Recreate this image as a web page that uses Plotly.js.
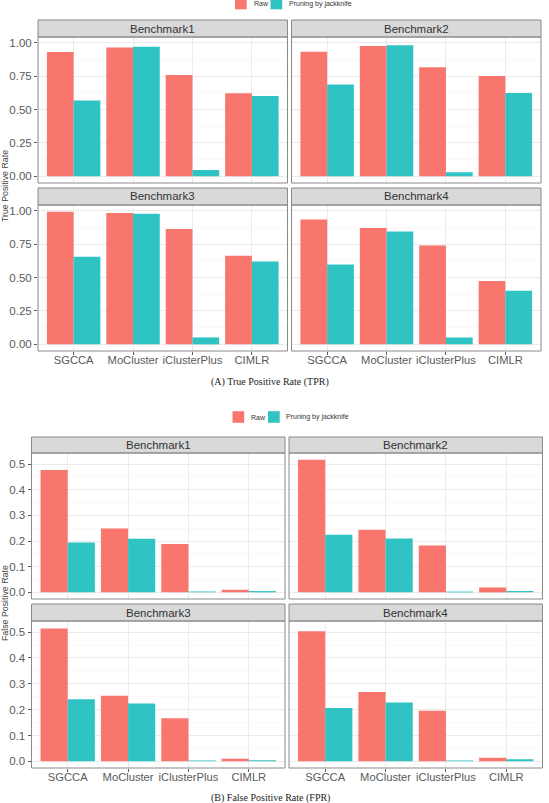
<!DOCTYPE html>
<html>
<head>
<meta charset="utf-8">
<script src="https://cdn.plot.ly/plotly-3.0.1.min.js"></script>
<style>html,body{margin:0;padding:0;background:#fff;}#chart{width:549px;height:803px;}</style>
</head>
<body>
<div id="chart"></div>
<script>
// ---- data ----
const categories = ['SGCCA', 'MoCluster', 'iClusterPlus', 'CIMLR'];
const seriesNames = ['Raw', 'Pruning by jackknife'];
const benchmarks = ['Benchmark1', 'Benchmark2', 'Benchmark3', 'Benchmark4'];

const tprRaw1 = [0.930, 0.965, 0.759, 0.622];
const tprRaw2 = [0.933, 0.975, 0.816, 0.751];
const tprRaw3 = [0.993, 0.983, 0.864, 0.663];
const tprRaw4 = [0.935, 0.871, 0.739, 0.474];
const tprJack1 = [0.567, 0.970, 0.047, 0.602];
const tprJack2 = [0.687, 0.980, 0.030, 0.624];
const tprJack3 = [0.655, 0.978, 0.052, 0.620];
const tprJack4 = [0.598, 0.844, 0.052, 0.402];

const fprRaw1 = [0.477, 0.249, 0.188, 0.010];
const fprRaw2 = [0.517, 0.244, 0.183, 0.019];
const fprRaw3 = [0.514, 0.254, 0.167, 0.010];
const fprRaw4 = [0.503, 0.268, 0.196, 0.014];
const fprJack1 = [0.194, 0.209, 0.003, 0.005];
const fprJack2 = [0.224, 0.210, 0.003, 0.005];
const fprJack3 = [0.240, 0.224, 0.003, 0.004];
const fprJack4 = [0.206, 0.228, 0.003, 0.008];

const yTitles = ['True Positive Rate', 'False Positive Rate'];
const captions = ['(A) True Positive Rate (TPR)', '(B) False Positive Rate (FPR)'];

// ---- layout helpers ----
const W = 549, H = 803;
const RED = '#F8766D', TEAL = '#2FC3C4';
const BORDER = '#8a8a8a';
const SANS = 'Liberation Sans, Arial, sans-serif';
const xf = v => v / W;
const yf = v => 1 - v / H;

const figs = [
  { raw: [tprRaw1, tprRaw2, tprRaw3, tprRaw4], jack: [tprJack1, tprJack2, tprJack3, tprJack4],
    cols: [[38, 287.5], [291.5, 541]],
    rows: [{ strip: 20, top: 37, bot: 183 }, { strip: 188, top: 205, bot: 351 }],
    dtick: 0.25, fmt: '.2f', legendY: 3.5, legendX: 235, ytitleY: 186, captionY: 382 },
  { raw: [fprRaw1, fprRaw2, fprRaw3, fprRaw4], jack: [fprJack1, fprJack2, fprJack3, fprJack4],
    cols: [[31.5, 285], [289, 542.5]],
    rows: [{ strip: 437, top: 453, bot: 599 }, { strip: 604, top: 621, bot: 768 }],
    dtick: 0.1, fmt: '.1f', legendY: 417, legendX: 232.5, ytitleY: 603, captionY: 798 }
];

const data = [];
const layout = {
  width: W, height: H,
  margin: { l: 0, r: 0, t: 0, b: 0 },
  paper_bgcolor: '#fff', plot_bgcolor: '#fff',
  showlegend: false,
  barmode: 'group', bargap: 0.1, bargroupgap: 0,
  font: { family: SANS, color: '#4d4d4d' },
  shapes: [], annotations: []
};

let idx = 0;
figs.forEach((f, fi) => {
  const all = f.raw.flat().concat(f.jack.flat());
  const ymax = Math.max(...all);
  const yr = [-0.05 * ymax, 1.05 * ymax];
  for (let p = 0; p < 4; p++) {
    idx++;
    const r = Math.floor(p / 2), c = p % 2;
    const col = f.cols[c], row = f.rows[r];
    const xa = idx === 1 ? 'x' : 'x' + idx;
    const ya = idx === 1 ? 'y' : 'y' + idx;
    const xk = idx === 1 ? 'xaxis' : 'xaxis' + idx;
    const yk = idx === 1 ? 'yaxis' : 'yaxis' + idx;
    data.push({ type: 'bar', x: categories, y: f.raw[p], name: seriesNames[0], xaxis: xa, yaxis: ya,
      marker: { color: RED, line: { width: 0 } }, hoverinfo: 'x+y' });
    data.push({ type: 'bar', x: categories, y: f.jack[p], name: seriesNames[1], xaxis: xa, yaxis: ya,
      marker: { color: TEAL, line: { width: 0 } }, hoverinfo: 'x+y' });
    layout[xk] = {
      domain: [xf(col[0]), xf(col[1])], anchor: ya, type: 'category',
      range: [-0.6, 3.6], showgrid: true, gridcolor: '#ebebeb', gridwidth: 1,
      zeroline: false, showline: false, tickangle: 0,
      showticklabels: r === 1, ticks: r === 1 ? 'outside' : '', ticklen: 3, tickcolor: '#333', tickwidth: 0.8,
      ticklabelstandoff: -4,
      tickfont: { size: 11.2, color: '#5a5a5a', family: SANS },
      fixedrange: true
    };
    layout[yk] = {
      domain: [yf(row.bot), yf(row.top)], anchor: xa,
      range: yr, tick0: 0, dtick: f.dtick, tickformat: f.fmt,
      showgrid: true, gridcolor: '#ebebeb', gridwidth: 1,
      minor: { dtick: f.dtick / 2, tick0: 0, showgrid: true, gridcolor: '#f5f5f5', gridwidth: 0.6, ticks: '' },
      zeroline: false, showline: false,
      showticklabels: c === 0, ticks: c === 0 ? 'outside' : '', ticklen: 3, tickcolor: '#333', tickwidth: 0.8,
      tickfont: { size: 11.5, color: '#5a5a5a', family: SANS },
      fixedrange: true
    };
    // strip
    layout.shapes.push({ type: 'rect', xref: 'paper', yref: 'paper',
      x0: xf(col[0]), x1: xf(col[1]), y0: yf(row.top), y1: yf(row.strip),
      fillcolor: '#d9d9d9', line: { color: BORDER, width: 1 } });
    layout.annotations.push({ xref: 'paper', yref: 'paper', x: xf((col[0] + col[1]) / 2), y: yf((row.strip + row.top) / 2),
      xanchor: 'center', yanchor: 'middle', showarrow: false, text: benchmarks[p],
      font: { size: 11.5, color: '#333', family: SANS } });
    // panel border
    layout.shapes.push({ type: 'rect', xref: 'paper', yref: 'paper', layer: 'above',
      x0: xf(col[0]), x1: xf(col[1]), y0: yf(row.bot), y1: yf(row.top),
      fillcolor: 'rgba(0,0,0,0)', line: { color: BORDER, width: 1 } });
  }
  // y-axis title
  layout.annotations.push({ xref: 'paper', yref: 'paper', x: xf(5), y: yf(f.ytitleY),
    xanchor: 'center', yanchor: 'middle', textangle: -90, showarrow: false, text: yTitles[fi],
    font: { size: 8.8, color: '#444', family: SANS } });
  // caption
  layout.annotations.push({ xref: 'paper', yref: 'paper', x: xf(270), y: yf(f.captionY),
    xanchor: 'center', yanchor: 'middle', showarrow: false, text: captions[fi],
    font: { size: 10, color: '#222', family: 'Liberation Serif, Times New Roman, serif' } });
  // legend (keys + labels)
  const ly = f.legendY, lx = f.legendX;
  const keys = [{ x: lx, color: RED, label: seriesNames[0], tx: lx + 16.5 },
                { x: lx + 35.5, color: TEAL, label: seriesNames[1], tx: lx + 51.5 }];
  keys.forEach(k => {
    layout.shapes.push({ type: 'rect', xref: 'paper', yref: 'paper',
      x0: xf(k.x), x1: xf(k.x + 11.7), y0: yf(ly + 5.8), y1: yf(ly - 5.8),
      fillcolor: k.color, line: { width: 0 } });
    layout.annotations.push({ xref: 'paper', yref: 'paper', x: xf(k.tx), y: yf(ly),
      xanchor: 'left', yanchor: 'middle', showarrow: false, text: k.label,
      font: { size: 7, color: '#333', family: SANS } });
  });
});

Plotly.newPlot('chart', data, layout, { displayModeBar: false, staticPlot: true });
</script>
</body>
</html>
